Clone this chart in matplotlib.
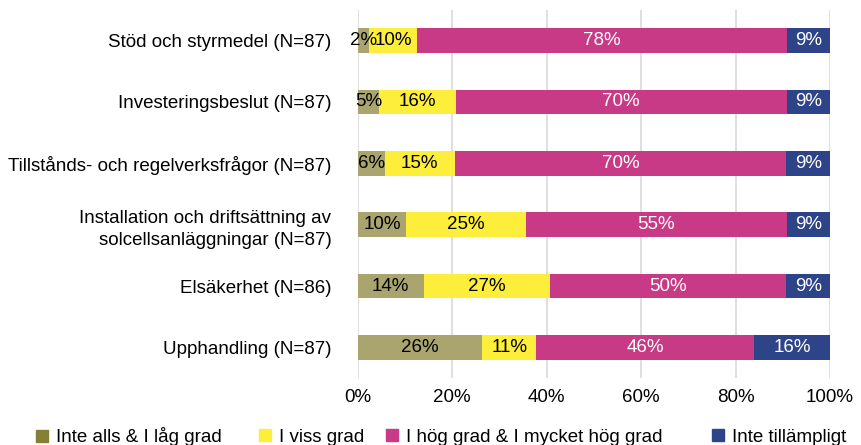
import matplotlib.pyplot as plt
from matplotlib.lines import Line2D

plt.rcParams['font.family'] = ['Liberation Sans', 'DejaVu Sans']

categories = [
    'Stöd och styrmedel (N=87)',
    'Investeringsbeslut (N=87)',
    'Tillstånds- och regelverksfrågor (N=87)',
    'Installation och driftsättning av\nsolcellsanläggningar (N=87)',
    'Elsäkerhet (N=86)',
    'Upphandling (N=87)',
]
series_names = ['Inte alls & I låg grad', 'I viss grad',
                'I hög grad & I mycket hög grad', 'Inte tillämpligt']

inte_alls = [2.3, 4.6, 5.7, 10.3, 14.0, 26.4]
viss_grad = [10.3, 16.1, 14.9, 25.3, 26.7, 11.4]
hog_grad = [78.2, 70.1, 70.1, 55.2, 50.0, 46.1]
inte_tillampligt = [9.2, 9.2, 9.3, 9.2, 9.3, 16.1]

bar_colors = ['#aaa46e', '#fcee3a', '#c83a86', '#2e4488']
legend_colors = ['#867f36', '#fcee3a', '#c83a86', '#2e4488']
text_colors = ['black', 'black', 'white', 'white']
fs = 13.5

fig = plt.figure(figsize=(8.62, 4.45), dpi=100)
ax = fig.add_axes([0.415, 0.15, 0.548, 0.828])

y = list(range(len(categories)))
left = [0.0] * len(categories)
for vals, color, tcol in zip([inte_alls, viss_grad, hog_grad, inte_tillampligt],
                             bar_colors, text_colors):
    ax.barh(y, vals, left=left, height=0.4, color=color, zorder=3)
    for yi, (l, v) in enumerate(zip(left, vals)):
        ax.text(l + v / 2, yi, f'{v:.0f}%', ha='center', va='center',
                color=tcol, fontsize=fs, zorder=4)
    left = [l + v for l, v in zip(left, vals)]

ax.set_xlim(0, 100)
ax.set_ylim(len(categories) - 0.5, -0.5)
ax.set_yticks(y)
ax.set_yticklabels(categories, fontsize=fs, linespacing=1.4)
ax.set_xticks(range(0, 101, 20))
ax.set_xticklabels([f'{t}%' for t in range(0, 101, 20)], fontsize=fs)
ax.tick_params(length=0)
ax.tick_params(axis='x', pad=8)
ax.tick_params(axis='y', pad=19)
ax.grid(axis='x', color='#d9d9d9', linewidth=1.2, zorder=0)
for s in ax.spines.values():
    s.set_visible(False)

# legend entries placed one by one, like the spacing in the original
legend_x = [35, 258, 385, 711]
for name, c, x in zip(series_names, legend_colors, legend_x):
    h = Line2D([], [], marker='s', linestyle='none', markersize=8.5,
               markerfacecolor=c, markeredgecolor=c)
    fig.legend([h], [name], loc='center left',
               bbox_to_anchor=(x / 862, 1 - 437 / 445), frameon=False,
               fontsize=fs, handlelength=0.7, handletextpad=0.4,
               borderpad=0, borderaxespad=0)

fig.savefig('out.png', dpi=100)
